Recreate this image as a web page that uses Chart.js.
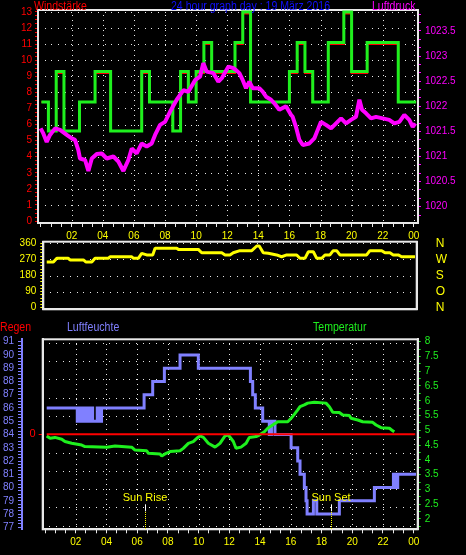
<!DOCTYPE html>
<html>
<head>
<meta charset="utf-8">
<script src="https://cdn.jsdelivr.net/npm/chart.js@4.4.1/dist/chart.umd.min.js"></script>
<style>
body { margin: 0; background: #000; width: 466px; height: 555px; overflow: hidden; position: relative;
       font-family: 'Liberation Sans Narrow', 'Liberation Sans', sans-serif; }
canvas { position: absolute; left: 0; }
.t { position: absolute; font-size: 12px; line-height: 14px; white-space: nowrap;
     transform: scaleX(0.88); transform-origin: 0 0; }
</style>
</head>
<body>
<canvas id="c-wind" width="466" height="250" style="top:0"></canvas>
<canvas id="c-dir" width="466" height="80" style="top:236px"></canvas>
<canvas id="c-hum" width="466" height="240" style="top:315px"></canvas>

<div class="t" style="left:34px;top:-1px;color:#ff0000">Windstärke</div>
<div class="t" style="left:171px;top:-1px;color:#1010ff">24 hour graph day : 19 März 2016</div>
<div class="t" style="left:372px;top:-1px;color:#ff00ff">Luftdruck</div>
<div class="t" style="left:0px;top:320px;color:#ff0000">Regen</div>
<div class="t" style="left:67px;top:320px;color:#8080ff">Luftfeuchte</div>
<div class="t" style="left:313px;top:320px;color:#1ef01e">Temperatur</div>

<script>
// wind (km/h), 30 min steps
const windTimes = [0.05, 0.5, 1.0, 1.5, 2.5, 3.5, 4.5, 6.5, 7.0, 8.5, 9.0, 9.5, 10.0, 10.5, 11.0, 12.5, 13.0, 13.5, 16.0, 16.5, 17.0, 17.5, 18.5, 19.5, 20.0, 21.0, 23.0, 24.15];
const windGust = [7.4, 5.6, 9.3, 5.6, 7.4, 9.3, 5.6, 9.3, 7.4, 5.6, 9.3, 7.4, 9.3, 11.1, 9.3, 11.1, 13.0, 7.4, 9.3, 11.1, 9.3, 7.4, 11.1, 13.0, 9.3, 11.1, 7.4, 7.4];
const windAvg = [7.4, 5.6, 9.2, 5.6, 7.4, 9.2, 5.6, 9.2, 7.4, 5.6, 9.2, 7.4, 9.2, 11.0, 9.2, 11.0, 12.9, 7.4, 9.2, 11.0, 9.2, 7.4, 11.0, 12.9, 9.2, 11.0, 7.4, 7.4];

// pressure (hPa)
const presTimes = [0.0, 0.17, 0.39, 0.60, 0.93, 1.25, 1.68, 2.0, 2.21, 2.42, 2.53, 2.86, 3.07, 3.29, 3.61, 3.93, 4.25, 4.68, 5.0, 5.32, 5.64, 5.86, 6.18, 6.5, 6.82, 7.14, 7.36, 7.68, 8.0, 8.32, 8.75, 9.18, 9.5, 9.93, 10.25, 10.46, 10.68, 11.11, 11.43, 11.65, 12.07, 12.39, 12.57, 12.78, 13.0, 13.21, 13.42, 13.64, 14.06, 14.28, 14.5, 14.82, 15.03, 15.35, 15.78, 16.1, 16.21, 16.42, 16.64, 16.86, 17.28, 17.6, 17.82, 18.03, 18.35, 18.68, 19.0, 19.32, 19.64, 19.96, 20.28, 20.5, 20.67, 20.93, 21.25, 21.57, 22.0, 22.42, 22.75, 23.07, 23.39, 23.71, 23.93, 24.1];
const presValues = [1021.56, 1021.46, 1021.29, 1021.43, 1021.56, 1021.53, 1021.43, 1021.36, 1021.33, 1021.13, 1020.96, 1020.93, 1020.71, 1020.96, 1021.05, 1021.06, 1020.96, 1021.0, 1020.9, 1020.71, 1020.93, 1021.16, 1021.06, 1021.26, 1021.2, 1021.26, 1021.43, 1021.63, 1021.69, 1021.89, 1022.13, 1022.32, 1022.29, 1022.52, 1022.59, 1022.86, 1022.69, 1022.66, 1022.49, 1022.56, 1022.79, 1022.76, 1022.72, 1022.66, 1022.52, 1022.36, 1022.49, 1022.36, 1022.36, 1022.29, 1022.19, 1022.13, 1022.06, 1021.93, 1022.0, 1021.83, 1021.79, 1021.59, 1021.33, 1021.23, 1021.26, 1021.36, 1021.53, 1021.69, 1021.63, 1021.56, 1021.66, 1021.76, 1021.66, 1021.73, 1021.79, 1022.13, 1021.93, 1021.86, 1021.76, 1021.79, 1021.76, 1021.73, 1021.66, 1021.69, 1021.83, 1021.73, 1021.59, 1021.66];

// wind direction (degrees)
const dirTimes = [0.39, 0.82, 1.04, 1.78, 1.89, 2.75, 2.92, 3.29, 3.5, 4.35, 4.46, 5.86, 5.96, 6.28, 6.5, 6.82, 7.21, 7.36, 8.75, 8.86, 10.14, 10.36, 11.65, 11.86, 12.18, 12.39, 12.82, 13.58, 13.9, 14.06, 14.32, 14.64, 15.18, 15.5, 15.83, 16.47, 16.68, 17.0, 17.22, 17.54, 17.76, 18.08, 18.29, 18.61, 18.82, 19.04, 19.25, 20.97, 21.18, 21.94, 22.15, 22.47, 22.68, 23.0, 23.22, 24.08];
const dirValues = [255, 255, 276, 276, 267, 267, 255, 255, 276, 276, 285, 285, 276, 276, 304, 295, 295, 332, 332, 326, 326, 307, 307, 295, 295, 307, 319, 319, 345, 345, 307, 304, 295, 285, 295, 295, 276, 276, 313, 313, 276, 276, 295, 295, 319, 319, 295, 295, 319, 319, 307, 307, 295, 295, 285, 285];
const dirLetters = ['N', 'O', 'S', 'W', 'N'];

// humidity (%)
const humTimes = [0.11, 2.10, 2.17, 2.24, 2.31, 2.38, 2.45, 2.52, 2.59, 2.66, 2.73, 2.80, 2.87, 2.94, 3.01, 3.10, 3.40, 3.47, 3.54, 3.61, 3.68, 6.45, 7.01, 7.77, 8.79, 9.98, 13.37, 13.52, 13.69, 14.17, 14.60, 14.74, 14.97, 16.02, 16.45, 16.60, 16.88, 16.99, 17.06, 17.47, 17.69, 19.16, 21.44, 22.68, 22.75, 22.82, 22.89, 22.96, 24.15];
const humValues = [86, 85, 86, 85, 86, 85, 86, 85, 86, 85, 86, 85, 86, 85, 86, 85, 86, 85, 86, 85, 86, 87, 88, 89, 90, 89, 88, 87, 86, 85, 84, 85, 84, 83, 82, 81, 80, 79, 78, 79, 78, 79, 80, 81, 80, 81, 80, 81, 81];

// temperature (°C)
const tempTimes = [0.11, 0.33, 0.65, 1.09, 1.30, 1.74, 2.39, 2.60, 4.02, 4.56, 5.64, 5.86, 6.62, 6.73, 7.49, 7.60, 7.81, 8.14, 8.79, 9.0, 9.33, 9.65, 9.88, 10.09, 10.31, 10.63, 11.07, 11.39, 11.72, 11.93, 12.26, 12.43, 12.76, 13.09, 13.3, 13.74, 13.95, 14.28, 14.5, 14.82, 15.15, 15.8, 16.02, 16.23, 16.45, 16.6, 16.88, 17.1, 17.53, 18.29, 18.51, 18.73, 19.16, 19.38, 19.81, 19.92, 20.36, 20.68, 21.33, 21.55, 21.88, 22.42, 22.64, 22.74];
const tempValues = [4.81, 4.73, 4.76, 4.70, 4.62, 4.56, 4.50, 4.45, 4.43, 4.47, 4.43, 4.33, 4.31, 4.22, 4.20, 4.13, 4.20, 4.28, 4.31, 4.39, 4.56, 4.62, 4.73, 4.81, 4.76, 4.56, 4.43, 4.56, 4.81, 4.84, 4.62, 4.39, 4.43, 4.56, 4.76, 4.79, 4.84, 4.95, 5.07, 5.18, 5.29, 5.29, 5.41, 5.54, 5.69, 5.80, 5.86, 5.92, 5.95, 5.92, 5.80, 5.61, 5.60, 5.52, 5.50, 5.41, 5.35, 5.29, 5.27, 5.18, 5.09, 5.07, 4.98, 4.95];

// rain (mm)
const rainTimes = [0.11, 24.1];
const rainValues = [0, 0];

const sunLabels = ['Sun Rise', 'Sun Set'];
const sunTimes = [6.5, 18.64];

const FONT = "'Liberation Sans Narrow', 'Liberation Sans', sans-serif";
const WHITE = '#e8e8e8';
const RED = '#ff0000';
const GREEN = '#1ef01e';
const MAGENTA = '#ff00ff';
const YELLOW = '#ffff00';
const LAVENDER = '#8080ff';
const NONE = 'rgba(0,0,0,0)';

function points(xs, ys) {
    return xs.map((x, i) => ({ x: x, y: ys[i] }));
}

function steps(from, count, step) {
    let t = [];
    for (let k = 0; k <= count; k++) {
        t.push({ value: from + k * step });
    }
    return t;
}

function fixWidth(w) {
    return (s) => { s.width = w; s.paddingTop = 0; s.paddingBottom = 0; };
}

function fixHeight(h) {
    return (s) => { s.height = h; s.paddingLeft = 0; s.paddingRight = 0; };
}

// every 40 min a tick, every third one (even hours) gets label and grid
function hourTicks(axis) {
    axis.ticks = steps(0, 36, 2 / 3);
}

function hourLabel(value, index) {
    if (index % 3 != 0 || index == 0) return '';
    return String(Math.round(value) % 24).padStart(2, '0');
}

function evenHour(value, index) {
    return index % 3 == 0 && index > 0;
}

function tickFont(size) {
    return { family: FONT, size: size || 10 };
}

const framePlugin = {
    id: 'frame',
    beforeDatasetsDraw(chart) {
        let a = chart.chartArea;
        let ctx = chart.ctx;
        ctx.save();
        ctx.strokeStyle = WHITE;
        ctx.lineWidth = 2;
        ctx.strokeRect(a.left, a.top, a.right - a.left, a.bottom - a.top);
        ctx.restore();
    }
};

// dotted grid lines, one pixel dots along the ticks of the given axes
function dotGrid(lines) {
    return {
        id: 'dotGrid',
        beforeDatasetsDraw(chart) {
            let a = chart.chartArea;
            let ctx = chart.ctx;
            ctx.save();
            ctx.fillStyle = WHITE;
            for (let g of lines) {
                let scale = chart.scales[g.axis];
                scale.ticks.forEach((t, i) => {
                    if (!g.keep(t.value, i)) return;
                    let p = Math.round(scale.getPixelForValue(t.value));
                    if (scale.isHorizontal()) {
                        for (let y = a.top + g.gap; y < a.bottom - 2; y += g.gap) {
                            ctx.fillRect(p, Math.round(y), 1, 1);
                        }
                    } else {
                        for (let x = a.left + g.gap; x < a.right - 2; x += g.gap) {
                            ctx.fillRect(Math.round(x), p, 1, 1);
                        }
                    }
                });
            }
            ctx.restore();
        }
    };
}

const sunPlugin = {
    id: 'sun',
    afterDatasetsDraw(chart) {
        let ctx = chart.ctx;
        let bottom = chart.chartArea.bottom;
        ctx.save();
        ctx.font = "11px " + FONT;
        ctx.textAlign = 'center';
        ctx.textBaseline = 'middle';
        for (let i = 0; i < sunTimes.length; i++) {
            let x = Math.round(chart.scales.x.getPixelForValue(sunTimes[i]));
            ctx.fillStyle = YELLOW;
            ctx.fillText(sunLabels[i], x, bottom - 31.5);
            ctx.fillStyle = '#ffffff';
            ctx.fillRect(x, bottom - 25, 1, 7);
            ctx.fillStyle = YELLOW;
            for (let y = bottom - 17; y < bottom; y += 2) {
                ctx.fillRect(x, Math.round(y), 1, 1);
            }
        }
        ctx.restore();
    }
};

const baseOptions = {
    responsive: false,
    animation: false,
    events: [],
    plugins: { legend: { display: false }, tooltip: { enabled: false } }
};

// ---- top: Windstärke + Luftdruck
new Chart(document.getElementById('c-wind'), {
    type: 'line',
    data: {
        datasets: [
            { data: points(presTimes, presValues), yAxisID: 'yP', borderColor: MAGENTA, borderWidth: 4,
              pointRadius: 0, borderJoinStyle: 'bevel' },
            { data: points(windTimes, windGust), yAxisID: 'yW', borderColor: GREEN, borderWidth: 3,
              stepped: true, pointRadius: 0 },
            { data: points(windTimes, windAvg), yAxisID: 'yW', borderColor: RED, borderWidth: 2,
              stepped: true, pointRadius: 0 }
        ]
    },
    options: Object.assign({}, baseOptions, {
        layout: { padding: { top: 10, left: 0, right: 0, bottom: 0 } },
        scales: {
            x: {
                type: 'linear', min: -0.17, max: 24.27,
                afterBuildTicks: hourTicks, afterFit: fixHeight(27),
                ticks: { callback: hourLabel, color: YELLOW, font: tickFont(), padding: 3, autoSkip: false, maxRotation: 0 },
                grid: { drawOnChartArea: false, tickColor: WHITE, tickLength: 4 },
                border: { color: WHITE, width: 2 }
            },
            yW: {
                position: 'left', min: -0.12, max: 13.12,
                afterBuildTicks: (a) => { a.ticks = steps(0, 52, 0.25); },
                afterFit: fixWidth(38),
                ticks: { callback: (v) => Number.isInteger(v) ? String(v) : '', color: RED, font: tickFont(),
                         padding: 3, autoSkip: false },
                grid: { drawOnChartArea: false, tickColor: RED, tickLength: 3 },
                border: { color: WHITE, width: 2 }
            },
            yP: {
                position: 'right', min: 1019.675, max: 1023.918,
                afterBuildTicks: (a) => { a.ticks = steps(1020 - 1 / 6, 24, 1 / 6); },
                afterFit: fixWidth(48),
                ticks: {
                    callback: (v) => {
                        let k = Math.round(v * 6);
                        return k % 3 == 0 ? String(Number((k / 6).toFixed(1))) : '';
                    },
                    color: MAGENTA, font: tickFont(), padding: 4, autoSkip: false
                },
                grid: { drawOnChartArea: false, tickColor: MAGENTA, tickLength: 3 },
                border: { color: WHITE, width: 2 }
            }
        }
    }),
    plugins: [
        dotGrid([
            { axis: 'x', gap: 5, keep: evenHour },
            { axis: 'yW', gap: 6.67, keep: (v) => Number.isInteger(v) && v > 0 }
        ]),
        framePlugin
    ]
});

// ---- middle: wind direction
new Chart(document.getElementById('c-dir'), {
    type: 'line',
    data: {
        datasets: [
            { data: points(dirTimes, dirValues), yAxisID: 'yD', borderColor: YELLOW, borderWidth: 3,
              pointRadius: 0, borderJoinStyle: 'bevel' }
        ]
    },
    options: Object.assign({}, baseOptions, {
        layout: { padding: { top: 5.7, left: 0, right: 0, bottom: 0 } },
        scales: {
            x: {
                type: 'linear', min: 0.17, max: 24.19,
                afterBuildTicks: (a) => { a.ticks = []; },
                afterFit: fixHeight(6.7),
                ticks: { display: false },
                grid: { drawOnChartArea: false, drawTicks: false },
                border: { color: WHITE, width: 2 }
            },
            yD: {
                position: 'left', min: -9, max: 369,
                afterBuildTicks: (a) => { a.ticks = steps(0, 20, 18); },
                afterFit: fixWidth(43.3),
                ticks: { callback: (v) => v % 90 == 0 ? String(v) : '', color: YELLOW, font: tickFont(),
                         padding: 4, autoSkip: false },
                grid: { drawOnChartArea: false, tickColor: YELLOW, tickLength: 3 },
                border: { color: WHITE, width: 2 }
            },
            yN: {
                position: 'right', min: -9, max: 369,
                afterBuildTicks: (a) => { a.ticks = steps(0, 4, 90); },
                afterFit: fixWidth(49.3),
                ticks: { callback: (v, i) => dirLetters[i], color: YELLOW, font: tickFont(12),
                         padding: 19, autoSkip: false },
                grid: { drawOnChartArea: false, drawTicks: false },
                border: { color: WHITE, width: 2 }
            }
        }
    }),
    plugins: [
        dotGrid([{ axis: 'yD', gap: 6.67, keep: (v) => v % 90 == 0 }]),
        framePlugin
    ]
});

// ---- bottom: Regen, Luftfeuchte, Temperatur
new Chart(document.getElementById('c-hum'), {
    type: 'line',
    data: {
        datasets: [
            { data: points(rainTimes, rainValues), yAxisID: 'yR', borderColor: RED, borderWidth: 2, pointRadius: 0 },
            { data: points(tempTimes, tempValues), yAxisID: 'yT', borderColor: GREEN, borderWidth: 3,
              pointRadius: 0, borderJoinStyle: 'bevel' },
            { data: points(humTimes, humValues), yAxisID: 'yH', borderColor: LAVENDER, borderWidth: 3,
              stepped: true, pointRadius: 0 }
        ]
    },
    options: Object.assign({}, baseOptions, {
        layout: { padding: { top: 24.3, left: 0, right: 0, bottom: 0 } },
        scales: {
            x: {
                type: 'linear', min: -0.15, max: 24.26,
                afterBuildTicks: hourTicks, afterFit: fixHeight(25.7),
                ticks: { callback: hourLabel, color: YELLOW, font: tickFont(), padding: 3, autoSkip: false, maxRotation: 0 },
                grid: { drawOnChartArea: false, tickColor: WHITE, tickLength: 4 },
                border: { color: WHITE, width: 2 }
            },
            yH: {
                position: 'left', weight: 1, min: 76.85, max: 91.18,
                afterBuildTicks: (a) => { a.ticks = steps(77, 56, 0.25); },
                afterFit: fixWidth(22),
                ticks: { callback: (v) => Number.isInteger(v) ? String(v) : '', color: LAVENDER, font: tickFont(),
                         padding: 4, autoSkip: false },
                grid: { drawOnChartArea: false, tickColor: LAVENDER, tickLength: 4 },
                border: { color: LAVENDER, width: 2 }
            },
            yR: {
                position: 'left', weight: 0, min: -5.2, max: 5.2,
                afterBuildTicks: (a) => { a.ticks = steps(-5, 10, 1); },
                afterFit: fixWidth(20.7),
                ticks: { callback: (v) => v == 0 ? '0' : '', color: RED, font: tickFont(11), padding: 3, autoSkip: false },
                grid: { drawOnChartArea: false, tickColor: (c) => c.tick.value == 0 ? RED : NONE, tickLength: 4 },
                border: { color: WHITE, width: 2 }
            },
            yT: {
                position: 'right', min: 1.65, max: 8.08,
                afterBuildTicks: (a) => { a.ticks = steps(1.75, 25, 0.25); },
                afterFit: fixWidth(48.3),
                ticks: { callback: (v) => Number.isInteger(v * 2) ? String(v) : '', color: GREEN, font: tickFont(),
                         padding: 4, autoSkip: false },
                grid: { drawOnChartArea: false, tickColor: GREEN, tickLength: 3 },
                border: { color: WHITE, width: 2 }
            }
        }
    }),
    plugins: [
        dotGrid([
            { axis: 'x', gap: 5, keep: evenHour },
            { axis: 'yR', gap: 6.67, keep: (v) => v != 0 }
        ]),
        framePlugin,
        sunPlugin
    ]
});
</script>
</body>
</html>
